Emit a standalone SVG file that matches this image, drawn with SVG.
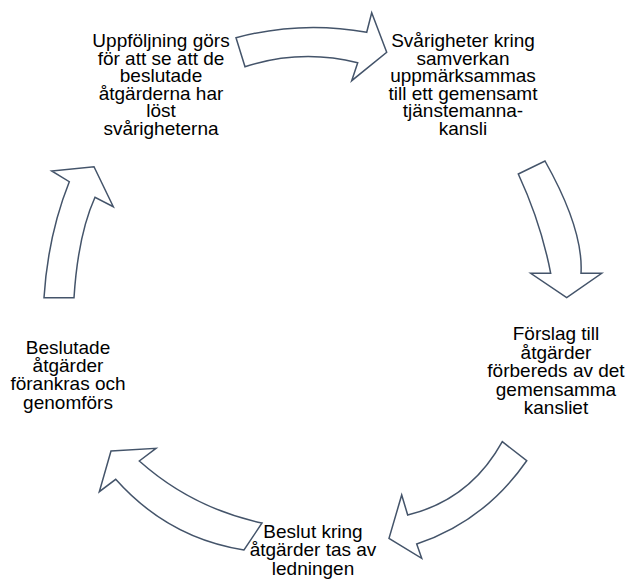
<svg xmlns="http://www.w3.org/2000/svg" width="629" height="579" viewBox="0 0 629 579">
<style>
.arrow{fill:#ffffff;stroke:#44546a;stroke-width:1.5;stroke-linejoin:miter}
text{font-family:"Liberation Sans",Arial,sans-serif;font-size:19px;fill:#000;text-anchor:middle}
</style>
<rect width="629" height="579" fill="#ffffff"/>
<g id="connectors">
<path class="arrow" d="M236,37.7 Q301,20.4 366.7,32.3 L371.7,12.7 L386.7,52.3 L351.7,80.7 L357.7,62.7 Q301,48.7 245,66.7 Z"/>
<path class="arrow" d="M518.3,174 L545,161 Q583.6,229.6 581,273.3 L601.7,273.3 L566.7,297.7 L530.7,273.3 L550.7,273.3 Q541,223 518.3,174 Z"/>
<path class="arrow" d="M502.3,441.7 L526.7,460.7 Q484.3,521.6 416.7,544 L421.7,558.3 L389,538.3 L401.7,495 L407.7,515 Q470,500 502.3,441.7 Z"/>
<path class="arrow" d="M111,451 L156,448.3 L139.3,461 Q192,508 262,523 L244,550 Q168,538 115.7,479.3 L99.3,491.7 Z"/>
<path class="arrow" d="M44,297.7 L74,297.7 Q78,235 95,197.3 L113.3,206.7 L94,166.7 L51.7,171 L69.3,181.7 Q48,235 44,297.7 Z"/>
</g>
<g id="node1">
<text x="463" y="47"><tspan x="463" y="47">Svårigheter kring</tspan><tspan x="463" dy="17.5">samverkan</tspan><tspan x="463" dy="17.5">uppmärksammas</tspan><tspan x="463" dy="17.5">till ett gemensamt</tspan><tspan x="463" dy="17.5">tjänstemanna-</tspan><tspan x="463" dy="17.5">kansli</tspan></text>
</g>
<g id="node2">
<text x="556" y="340"><tspan x="556" y="340">Förslag till</tspan><tspan x="556" dy="18.5">åtgärder</tspan><tspan x="556" dy="18.5">förbereds av det</tspan><tspan x="556" dy="18.5">gemensamma</tspan><tspan x="556" dy="18.5">kansliet</tspan></text>
</g>
<g id="node3">
<text x="313" y="538"><tspan x="313" y="538">Beslut kring</tspan><tspan x="313" dy="18.3">åtgärder tas av</tspan><tspan x="313" dy="18.3">ledningen</tspan></text>
</g>
<g id="node4">
<text x="68" y="354"><tspan x="68" y="354">Beslutade</tspan><tspan x="68" dy="18.2">åtgärder</tspan><tspan x="68" dy="18.2">förankras och</tspan><tspan x="68" dy="18.2">genomförs</tspan></text>
</g>
<g id="node5">
<text x="161" y="47"><tspan x="161" y="47">Uppföljning görs</tspan><tspan x="161" dy="17.5">för att se att de</tspan><tspan x="161" dy="17.5">beslutade</tspan><tspan x="161" dy="17.5">åtgärderna har</tspan><tspan x="161" dy="17.5">löst</tspan><tspan x="161" dy="17.5">svårigheterna</tspan></text>
</g>
</svg>
